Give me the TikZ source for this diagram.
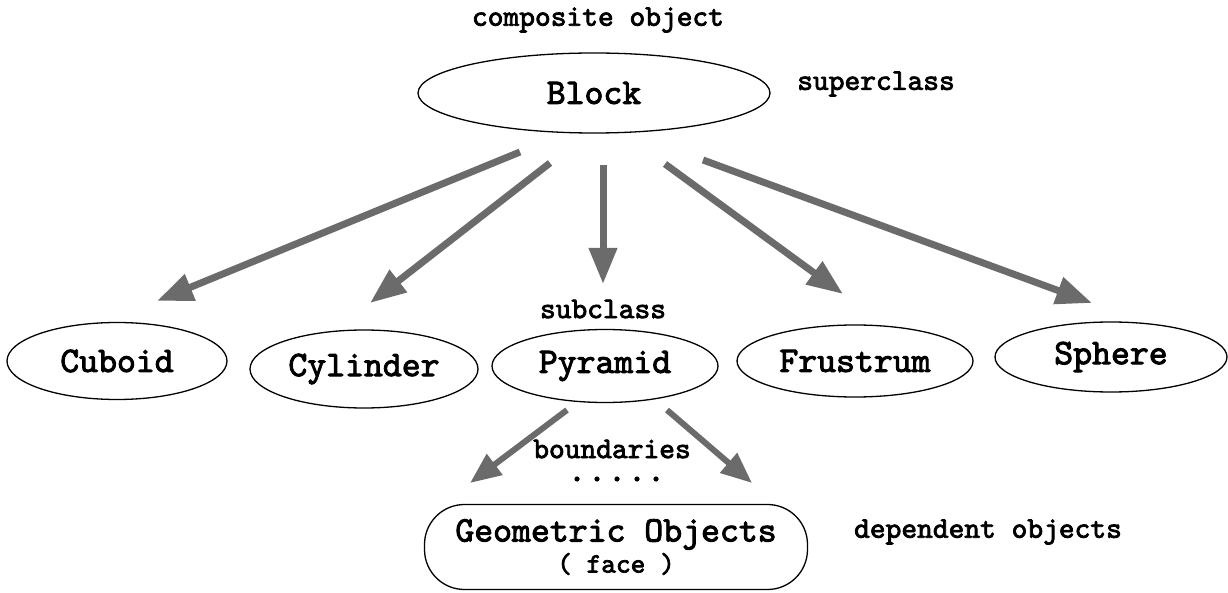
\documentclass[tikz,border=0pt]{standalone}
\usepackage{fontspec}
\newfontfamily\cour{lmmono10-regular.otf}[FakeBold=2.6]
\usetikzlibrary{shapes.geometric,arrows.meta}
\tikzset{
  lbl/.style={font=\cour\fontsize{30}{34}\selectfont, inner sep=0pt},
  cls/.style={ellipse, draw, line width=1.3pt, inner sep=0pt, font=\cour\fontsize{36}{40}\selectfont},
  bigarrow/.style={draw=black!58, line width=7pt, -{Triangle[length=36pt,width=27pt]}},
  smallarrow/.style={draw=black!58, line width=6pt, -{Triangle[length=31pt,width=25pt]}},
  dot/.style={fill=black}
}
\begin{document}
\begin{tikzpicture}[x=1pt,y=-1pt]
\useasboundingbox (0,0) rectangle (1228,593);
% labels
\node[lbl] (comp) at (598,20) {composite object};
\node[lbl] (super) at (876,84) {superclass};
\node[lbl] (sub) at (603,309) {subclass};
\node[lbl] (bound) at (612,449) {boundaries};
\node[lbl] (dep) at (988,532) {dependent objects};
% class ellipses
\node[cls, minimum width=352pt, minimum height=80pt] (block) at (594,93) {Block};
\node[cls, minimum width=220pt, minimum height=77pt] (cuboid) at (117,361) {Cuboid};
\node[cls, minimum width=228pt, minimum height=78pt] (cyl) at (364,369) {Cylinder};
\node[cls, minimum width=226pt, minimum height=73pt] (pyr) at (605,366) {Pyramid};
\node[cls, minimum width=236pt, minimum height=72pt] (fru) at (855,361) {Frustrum};
\node[cls, minimum width=232pt, minimum height=70pt] (sph) at (1111,357) {Sphere};
% dependent object box
\node[draw, line width=1.3pt, rounded corners=40pt, minimum width=383pt, minimum height=85pt,
      align=center, inner sep=0pt, font=\cour\fontsize{36}{31}\selectfont] (geo) at (616,547)
      {Geometric Objects\\{\fontsize{28}{30}\selectfont ( face )}};
% arrow end points
\coordinate (a1s) at (520,152); \coordinate (a1e) at (157,301);
\coordinate (a2s) at (550,163); \coordinate (a2e) at (370,303);
\coordinate (a3s) at (603,165); \coordinate (a3e) at (603,284);
\coordinate (a4s) at (665,164); \coordinate (a4e) at (843,294);
\coordinate (a5s) at (703,160); \coordinate (a5e) at (1092,303);
\coordinate (b1s) at (567,410); \coordinate (b1e) at (470,483);
\coordinate (b2s) at (667,410); \coordinate (b2e) at (752,483);
\draw[bigarrow] (a1s) -- (a1e);
\draw[bigarrow] (a2s) -- (a2e);
\draw[bigarrow] (a3s) -- (a3e);
\draw[bigarrow] (a4s) -- (a4e);
\draw[bigarrow] (a5s) -- (a5e);
\draw[smallarrow] (b1s) -- (b1e);
\draw[smallarrow] (b2s) -- (b2e);
% dots
\foreach \x in {577,597,617,637,656} \fill[dot] (\x,479) circle (2.6pt);
\end{tikzpicture}
\end{document}
